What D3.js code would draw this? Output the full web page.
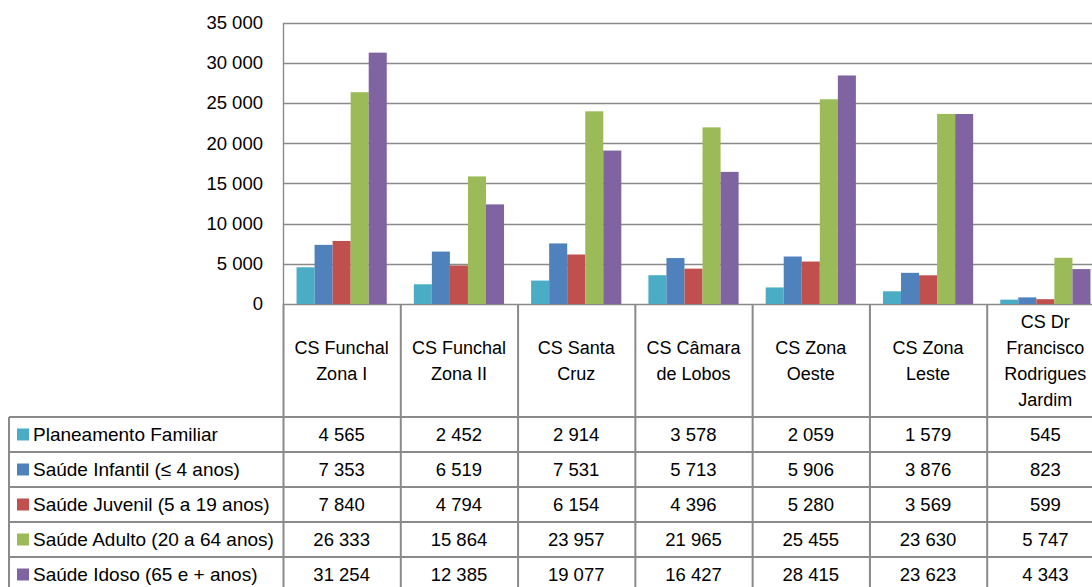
<!DOCTYPE html>
<html>
<head>
<meta charset="utf-8">
<script src="https://cdn.jsdelivr.net/npm/d3@7"></script>
<style>
    html, body { margin: 0; padding: 0; background: #fff; overflow: hidden; }
    svg text { font-family: "Liberation Sans", Arial, sans-serif; fill: #000; }
</style>
</head>
<body>
<div id="chart"></div>
<script>
// centros de saude (each entry is the lines of its header cell)
var categories = [
    ['CS Funchal', 'Zona I'],
    ['CS Funchal', 'Zona II'],
    ['CS Santa', 'Cruz'],
    ['CS Câmara', 'de Lobos'],
    ['CS Zona', 'Oeste'],
    ['CS Zona', 'Leste'],
    ['CS Dr', 'Francisco', 'Rodrigues', 'Jardim']
];

var seriesNames = [
    'Planeamento Familiar',
    'Saúde Infantil (≤ 4 anos)',
    'Saúde Juvenil (5 a 19 anos)',
    'Saúde Adulto (20 a 64 anos)',
    'Saúde Idoso (65 e + anos)'
];

var planeamentoFamiliar = [4565, 2452, 2914, 3578, 2059, 1579, 545];
var saudeInfantil = [7353, 6519, 7531, 5713, 5906, 3876, 823];
var saudeJuvenil = [7840, 4794, 6154, 4396, 5280, 3569, 599];
var saudeAdulto = [26333, 15864, 23957, 21965, 25455, 23630, 5747];
var saudeIdoso = [31254, 12385, 19077, 16427, 28415, 23623, 4343];

var yTicks = [0, 5000, 10000, 15000, 20000, 25000, 30000, 35000];

(function () {
    var series = [planeamentoFamiliar, saudeInfantil, saudeJuvenil, saudeAdulto, saudeIdoso];
    var colors = ['#4BACC6', '#4F81BD', '#C0504D', '#9BBB59', '#8064A2'];

    var width = 1092, height = 587;
    var plotLeft = 283, plotRight = 1104;   // last column runs off the picture
    var plotTop = 22.5, plotBottom = 304;
    var headerBottom = 417, rowHeight = 35;
    var tableLeft = 9;
    var lineColor = '#8a8a8a';

    // Excel style number format: space as thousands separator
    var fmt = function (v) {
        return d3.format(',')(v).replace(/,/g, ' ');
    };

    var svg = d3.select('#chart')
        .append('svg')
        .attr('width', width)
        .attr('height', height);

    var x = d3.scaleBand()
        .domain(d3.range(categories.length))
        .range([plotLeft, plotRight])
        .padding(0);

    // gap width 150% -> outer padding of 0.75 bar
    var xInner = d3.scaleBand()
        .domain(d3.range(series.length))
        .range([0, x.bandwidth()])
        .paddingInner(0)
        .paddingOuter(0.75);

    var y = d3.scaleLinear()
        .domain([0, 35000])
        .range([plotBottom, plotTop]);

    // gridlines
    svg.append('g')
        .selectAll('line')
        .data(yTicks)
        .enter()
        .append('line')
        .attr('x1', plotLeft)
        .attr('x2', plotRight)
        .attr('y1', function (d) { return Math.round(y(d)) + 0.5; })
        .attr('y2', function (d) { return Math.round(y(d)) + 0.5; })
        .attr('stroke', lineColor)
        .attr('stroke-width', 1.4);

    // y axis line
    svg.append('line')
        .attr('x1', plotLeft + 0.5).attr('x2', plotLeft + 0.5)
        .attr('y1', Math.round(plotTop)).attr('y2', plotBottom)
        .attr('stroke', lineColor)
        .attr('stroke-width', 1.4);

    // y tick labels
    svg.append('g')
        .selectAll('text')
        .data(yTicks)
        .enter()
        .append('text')
        .attr('x', 263)
        .attr('y', function (d) { return y(d); })
        .attr('dy', '0.35em')
        .attr('text-anchor', 'end')
        .style('font-size', '18.5px')
        .text(fmt);

    // bars
    var groups = svg.append('g')
        .selectAll('g')
        .data(categories)
        .enter()
        .append('g')
        .attr('transform', function (d, i) { return 'translate(' + x(i) + ',0)'; });

    groups.selectAll('rect')
        .data(function (d, i) {
            return series.map(function (s, k) { return { k: k, value: s[i] }; });
        })
        .enter()
        .append('rect')
        .attr('x', function (d) { return xInner(d.k); })
        .attr('width', xInner.bandwidth())
        .attr('y', function (d) { return y(d.value); })
        .attr('height', function (d) { return plotBottom - y(d.value); })
        .attr('fill', function (d) { return colors[d.k]; });

    // data table
    var tableBottom = headerBottom + rowHeight * series.length;
    var table = svg.append('g')
        .attr('stroke', lineColor)
        .attr('stroke-width', 2);

    // column separators
    table.selectAll('line.col')
        .data(d3.range(categories.length + 1))
        .enter()
        .append('line')
        .attr('x1', function (i) { return plotLeft + i * x.step() + 0.5; })
        .attr('x2', function (i) { return plotLeft + i * x.step() + 0.5; })
        .attr('y1', plotBottom)
        .attr('y2', tableBottom);

    table.append('line')
        .attr('x1', tableLeft).attr('x2', tableLeft)
        .attr('y1', headerBottom).attr('y2', tableBottom);

    // row separators
    table.selectAll('line.row')
        .data(d3.range(series.length + 1))
        .enter()
        .append('line')
        .attr('x1', tableLeft)
        .attr('x2', plotRight)
        .attr('y1', function (i) { return headerBottom + i * rowHeight; })
        .attr('y2', function (i) { return headerBottom + i * rowHeight; });

    // header cells
    var headerMid = (plotBottom + headerBottom) / 2;
    var lineGap = 26;
    groups.append('text')
        .attr('text-anchor', 'middle')
        .style('font-size', '18px')
        .each(function (lines) {
            var t = d3.select(this);
            var start = headerMid - (lines.length - 1) * lineGap / 2;
            lines.forEach(function (line, j) {
                t.append('tspan')
                    .attr('x', x.bandwidth() / 2)
                    .attr('y', start + j * lineGap)
                    .attr('dy', '0.35em')
                    .text(line);
            });
        });

    // row labels with legend keys
    var rows = svg.append('g')
        .selectAll('g')
        .data(seriesNames)
        .enter()
        .append('g')
        .attr('transform', function (d, i) {
            return 'translate(0,' + (headerBottom + i * rowHeight + rowHeight / 2) + ')';
        });

    rows.append('rect')
        .attr('x', 17)
        .attr('y', -6)
        .attr('width', 12)
        .attr('height', 12)
        .attr('fill', function (d, i) { return colors[i]; });

    rows.append('text')
        .attr('x', 33)
        .attr('dy', '0.35em')
        .style('font-size', '19px')
        .text(function (d) { return d; });

    // values
    rows.selectAll('text.val')
        .data(function (d, i) { return series[i]; })
        .enter()
        .append('text')
        .attr('class', 'val')
        .attr('x', function (d, j) { return x(j) + x.bandwidth() / 2; })
        .attr('dy', '0.35em')
        .attr('text-anchor', 'middle')
        .style('font-size', '18.5px')
        .text(fmt);
})();
</script>
</body>
</html>
